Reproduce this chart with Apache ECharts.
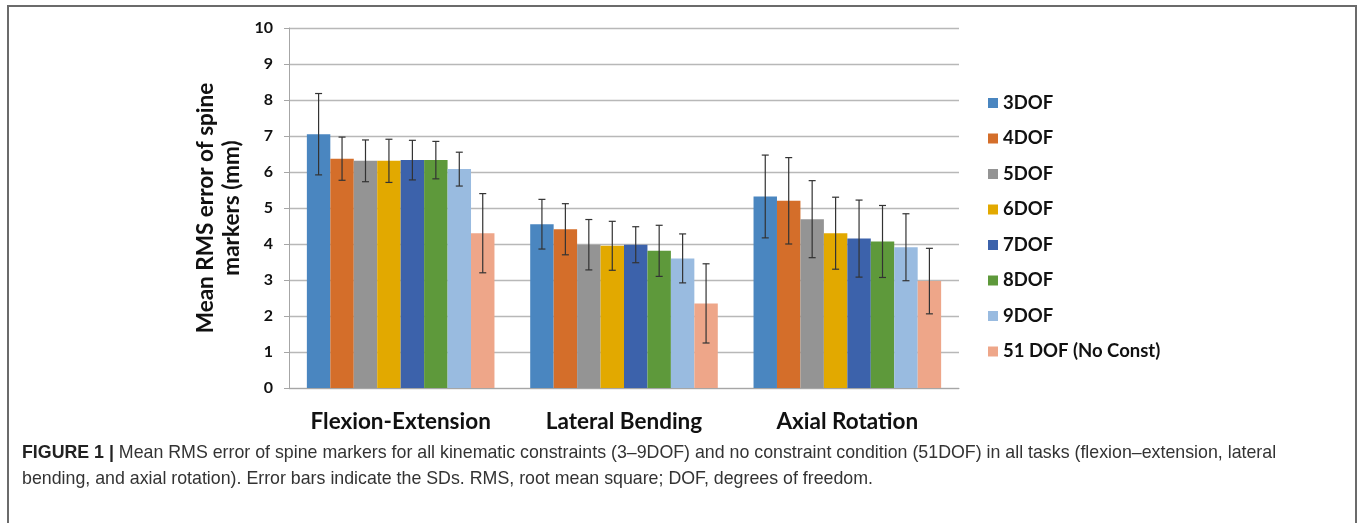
<!DOCTYPE html>
<html>
<head>
<meta charset="utf-8">
<script src="https://cdn.jsdelivr.net/npm/echarts@6/dist/echarts.min.js"></script>
<style>
  html, body { margin: 0; padding: 0; background: #fff; }
  #chart { width: 1363px; height: 523px; }
</style>
</head>
<body>
<div id="chart"></div>
<script>
// Tasks on the category axis
const tasks = ['Flexion-Extension', 'Lateral Bending', 'Axial Rotation'];

// Constraint models (legend order)
const models = ['3DOF', '4DOF', '5DOF', '6DOF', '7DOF', '8DOF', '9DOF', '51 DOF (No Const)'];

// Mean RMS error (mm) per model, one value per task
const mean3 = [7.05, 4.55, 5.32];
const mean4 = [6.37, 4.41, 5.20];
const mean5 = [6.31, 3.98, 4.69];
const mean6 = [6.31, 3.95, 4.30];
const mean7 = [6.33, 3.98, 4.15];
const mean8 = [6.33, 3.81, 4.07];
const mean9 = [6.08, 3.60, 3.91];
const mean51 = [4.30, 2.35, 2.97];

// Standard deviations (mm)
const sd3 = [1.13, 0.69, 1.15];
const sd4 = [0.60, 0.71, 1.20];
const sd5 = [0.58, 0.70, 1.07];
const sd6 = [0.60, 0.68, 1.00];
const sd7 = [0.55, 0.50, 1.07];
const sd8 = [0.52, 0.71, 1.00];
const sd9 = [0.47, 0.68, 0.93];
const sd51 = [1.10, 1.10, 0.91];

// Y-axis ticks
const yTicks = [0, 1, 2, 3, 4, 5, 6, 7, 8, 9, 10];

const means = [mean3, mean4, mean5, mean6, mean7, mean8, mean9, mean51];
const sds = [sd3, sd4, sd5, sd6, sd7, sd8, sd9, sd51];
const colors = ['#4a86c0', '#d46e2a', '#949494', '#e2a900', '#3c62ab', '#5e993b', '#99bbe0', '#eea689'];

const CAT_GAP = 0.16;
const nSeries = models.length;

const barSeries = models.map((name, i) => ({
  name: name,
  type: 'bar',
  data: means[i],
  barGap: 0,
  barCategoryGap: (CAT_GAP * 100) + '%',
  itemStyle: { color: colors[i] },
  z: 2
}));

// Error bars drawn on top of each bar, offset within the category band
const errSeries = models.map((name, i) => ({
  name: name,
  type: 'custom',
  data: means[i].map((m, k) => [k, m - sds[i][k], m + sds[i][k]]),
  encode: { x: 0, y: [1, 2] },
  z: 5,
  silent: true,
  renderItem: function (params, api) {
    const k = api.value(0);
    const lo = api.coord([k, api.value(1)]);
    const hi = api.coord([k, api.value(2)]);
    const band = api.size([1, 0])[0];
    const total = band * (1 - CAT_GAP);
    const bw = total / nSeries;
    const x = lo[0] - total / 2 + (i + 0.5) * bw;
    const cap = 3.5;
    const style = { stroke: '#333', lineWidth: 1.2 };
    return {
      type: 'group',
      children: [
        { type: 'line', shape: { x1: x, y1: lo[1], x2: x, y2: hi[1] }, style: style },
        { type: 'line', shape: { x1: x - cap, y1: lo[1], x2: x + cap, y2: lo[1] }, style: style },
        { type: 'line', shape: { x1: x - cap, y1: hi[1], x2: x + cap, y2: hi[1] }, style: style }
      ]
    };
  }
}));

const chart = echarts.init(document.getElementById('chart'), null, { renderer: 'canvas' });

chart.setOption({
  animation: false,
  backgroundColor: '#fff',
  grid: { left: 289, right: 404, top: 28, bottom: 135, containLabel: false },
  legend: {
    orient: 'vertical',
    left: 983,
    top: 88,
    data: models,
    itemWidth: 10,
    itemHeight: 10,
    itemGap: 15.5,
    icon: 'rect',
    textStyle: { fontFamily: 'Lato', fontWeight: 'bold', fontSize: 18.5, lineHeight: 20, color: '#111', padding: [0, 0, 0, 0] }
  },
  xAxis: {
    type: 'category',
    data: tasks,
    axisLine: { lineStyle: { color: '#a6a6a6', width: 1 } },
    axisTick: { show: false },
    axisLabel: {
      interval: 0,
      margin: 22,
      fontFamily: 'Lato',
      fontWeight: 'bold',
      fontSize: 22.5,
      color: '#111'
    }
  },
  yAxis: {
    type: 'value',
    min: yTicks[0],
    max: yTicks[yTicks.length - 1],
    interval: 1,
    name: 'Mean RMS error of spine\nmarkers (mm)',
    nameLocation: 'middle',
    nameRotate: 90,
    nameGap: 44,
    nameTextStyle: { fontFamily: 'Lato', fontWeight: 'bold', fontSize: 22.5, color: '#111', lineHeight: 26 },
    axisLine: { show: true, lineStyle: { color: '#a6a6a6', width: 1 } },
    axisTick: { show: true, length: 5, lineStyle: { color: '#a6a6a6' } },
    splitLine: { lineStyle: { color: '#b8b8b8', width: 1.3 } },
    axisLabel: {
      margin: 16,
      fontFamily: 'Lato',
      fontWeight: 'bold',
      fontSize: 16,
      color: '#111'
    }
  },
  graphic: [
    {
      type: 'polyline',
      shape: { points: [[8, 530], [8, 6], [1356, 6], [1356, 530]] },
      style: { stroke: '#6b6b6b', lineWidth: 2, fill: null },
      silent: true
    },
    {
      type: 'text',
      left: 22,
      top: 440,
      style: {
        text: '{b|FIGURE 1 |} Mean RMS error of spine markers for all kinematic constraints (3–9DOF) and no constraint condition (51DOF) in all tasks (flexion–extension, lateral\nbending, and axial rotation). Error bars indicate the SDs. RMS, root mean square; DOF, degrees of freedom.',
        fontFamily: 'Liberation Sans',
        fontSize: 17.8,
        lineHeight: 26,
        fill: '#333',
        rich: {
          b: { fontFamily: 'Liberation Sans', fontWeight: 'bold', fontSize: 17.8, fill: '#222', lineHeight: 26 }
        }
      }
    }
  ],
  series: barSeries.concat(errSeries)
});
</script>
</body>
</html>
